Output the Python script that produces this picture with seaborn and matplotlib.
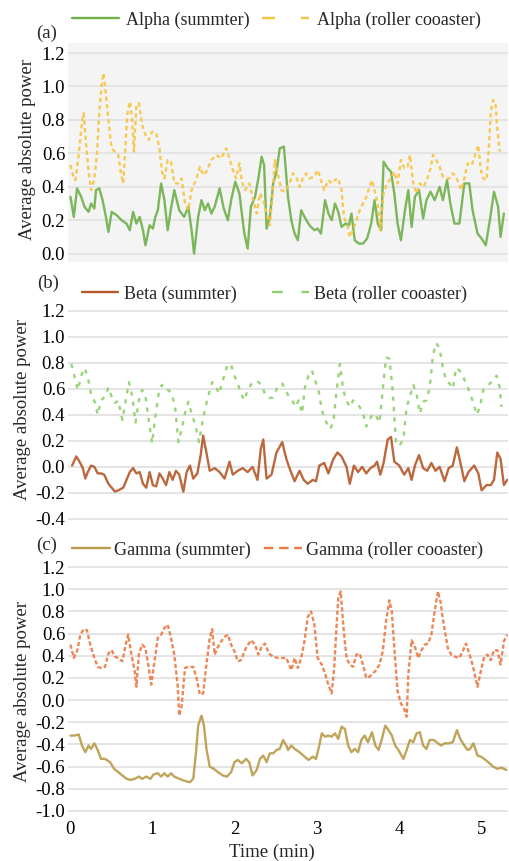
import numpy as np
import pandas as pd
import matplotlib
matplotlib.use("Agg")
import matplotlib.pyplot as plt
from matplotlib.lines import Line2D
import seaborn as sns

# (a) Alpha
alpha_summer_t = [0.01, 0.05, 0.09, 0.14, 0.18, 0.23, 0.26, 0.30, 0.32, 0.36, 0.40, 0.44, 0.47, 0.51, 0.57,
                  0.63, 0.69, 0.73, 0.77, 0.81, 0.85, 0.89, 0.92, 0.97, 1.01, 1.04, 1.07, 1.11, 1.15, 1.19,
                  1.23, 1.27, 1.33, 1.39, 1.44, 1.48, 1.51, 1.56, 1.60, 1.64, 1.68, 1.72, 1.76, 1.82, 1.87,
                  1.92, 1.96, 2.01, 2.06, 2.12, 2.16, 2.20, 2.25, 2.29, 2.33, 2.36, 2.39, 2.43, 2.47, 2.51,
                  2.55, 2.60, 2.65, 2.69, 2.73, 2.77, 2.81, 2.85, 2.91, 2.97, 3.01, 3.05, 3.10, 3.14, 3.18,
                  3.22, 3.26, 3.30, 3.35, 3.39, 3.42, 3.46, 3.51, 3.56, 3.61, 3.66, 3.70, 3.74, 3.78, 3.81,
                  3.86, 3.90, 3.94, 3.98, 4.02, 4.07, 4.11, 4.15, 4.19, 4.24, 4.29, 4.33, 4.38, 4.43, 4.49,
                  4.53, 4.58, 4.62, 4.67, 4.73, 4.79, 4.85, 4.89, 4.95, 5.00, 5.05, 5.10, 5.15, 5.20, 5.23, 5.27]
alpha_summer = [0.34, 0.22, 0.39, 0.34, 0.28, 0.25, 0.30, 0.27, 0.38, 0.39, 0.32, 0.22, 0.13, 0.25, 0.23,
                0.20, 0.18, 0.14, 0.25, 0.18, 0.22, 0.14, 0.05, 0.17, 0.15, 0.22, 0.26, 0.42, 0.32, 0.14,
                0.27, 0.38, 0.26, 0.22, 0.28, 0.14, 0.00, 0.22, 0.32, 0.26, 0.30, 0.24, 0.28, 0.39, 0.27,
                0.20, 0.32, 0.43, 0.36, 0.12, 0.03, 0.28, 0.34, 0.45, 0.58, 0.53, 0.15, 0.22, 0.42, 0.49,
                0.63, 0.64, 0.34, 0.20, 0.12, 0.08, 0.26, 0.22, 0.17, 0.14, 0.15, 0.12, 0.32, 0.24, 0.20,
                0.30, 0.25, 0.16, 0.18, 0.17, 0.24, 0.08, 0.06, 0.06, 0.09, 0.18, 0.32, 0.18, 0.14, 0.55,
                0.51, 0.49, 0.36, 0.18, 0.08, 0.26, 0.38, 0.16, 0.34, 0.38, 0.21, 0.32, 0.37, 0.32, 0.40,
                0.32, 0.44, 0.30, 0.18, 0.18, 0.42, 0.42, 0.26, 0.12, 0.09, 0.05, 0.20, 0.37, 0.28, 0.10, 0.24]

alpha_roller_t = [0.01, 0.04, 0.07, 0.11, 0.15, 0.17, 0.20, 0.23, 0.26, 0.30, 0.33, 0.36, 0.39, 0.41, 0.43,
                  0.46, 0.49, 0.51, 0.55, 0.59, 0.62, 0.65, 0.67, 0.70, 0.73, 0.76, 0.78, 0.81, 0.84, 0.88,
                  0.92, 0.96, 1.00, 1.05, 1.09, 1.12, 1.15, 1.19, 1.23, 1.27, 1.31, 1.36, 1.40, 1.44, 1.48,
                  1.54, 1.58, 1.62, 1.66, 1.72, 1.78, 1.84, 1.90, 1.94, 1.98, 2.02, 2.06, 2.09, 2.13, 2.18,
                  2.22, 2.27, 2.31, 2.35, 2.39, 2.43, 2.46, 2.49, 2.53, 2.57, 2.61,
                  2.67, 2.71, 2.75, 2.79, 2.83, 2.87, 2.91, 2.97, 3.01, 3.05, 3.09, 3.14, 3.18, 3.22, 3.26,
                  3.30, 3.33, 3.37, 3.40, 3.44, 3.48, 3.52, 3.56, 3.60, 3.64, 3.67, 3.70, 3.74, 3.77, 3.81,
                  3.85, 3.90, 3.94, 3.98, 4.02, 4.06, 4.10, 4.13, 4.17, 4.21, 4.25, 4.30, 4.34, 4.38, 4.41,
                  4.45, 4.49, 4.53, 4.57, 4.61, 4.65, 4.69, 4.75, 4.79, 4.83, 4.88, 4.92, 4.96, 4.99, 5.02,
                  5.06, 5.09, 5.11, 5.14, 5.17, 5.19, 5.22]
alpha_roller = [0.53, 0.47, 0.44, 0.59, 0.79, 0.84, 0.65, 0.49, 0.38, 0.45, 0.59, 0.85, 1.02, 1.08, 1.00,
                0.85, 0.71, 0.63, 0.61, 0.59, 0.49, 0.42, 0.59, 0.83, 0.91, 0.79, 0.61, 0.89, 0.90, 0.77,
                0.71, 0.68, 0.73, 0.72, 0.63, 0.49, 0.45, 0.56, 0.55, 0.42, 0.42, 0.45, 0.30, 0.26, 0.38,
                0.45, 0.52, 0.47, 0.49, 0.56, 0.59, 0.57, 0.63, 0.57, 0.50, 0.45, 0.54, 0.43, 0.38, 0.42,
                0.34, 0.24, 0.36, 0.32, 0.24, 0.17, 0.34, 0.56, 0.47, 0.38, 0.37,
                0.42, 0.48, 0.46, 0.40, 0.45, 0.48, 0.45, 0.46, 0.50, 0.44, 0.38, 0.44, 0.42, 0.44, 0.45,
                0.38, 0.22, 0.17, 0.10, 0.14, 0.20, 0.26, 0.30, 0.34, 0.40, 0.44, 0.38, 0.30, 0.14, 0.36,
                0.42, 0.45, 0.49, 0.42, 0.56, 0.51, 0.52, 0.59, 0.42, 0.36, 0.42, 0.40, 0.45, 0.51, 0.59,
                0.56, 0.52, 0.46, 0.45, 0.45, 0.48, 0.46, 0.38, 0.45, 0.54, 0.53, 0.59, 0.65, 0.50, 0.45,
                0.44, 0.65, 0.85, 0.92, 0.89, 0.75, 0.61]

# (b) Beta
beta_summer_t = [0.03, 0.08, 0.12, 0.16, 0.19, 0.22, 0.26, 0.30, 0.34, 0.38,
                 0.42, 0.47, 0.51, 0.55, 0.59, 0.65, 0.69, 0.73, 0.77, 0.81,
                 0.85, 0.89, 0.93, 0.97, 1.01, 1.05, 1.09, 1.13, 1.17, 1.21,
                 1.25, 1.29, 1.33, 1.38, 1.42, 1.46, 1.50, 1.55, 1.59, 1.62,
                 1.66, 1.70, 1.76, 1.82, 1.88, 1.94, 1.98, 2.04, 2.10, 2.16,
                 2.22, 2.28, 2.32, 2.35, 2.39, 2.45, 2.51, 2.58, 2.63, 2.68,
                 2.73, 2.79, 2.84, 2.89, 2.95, 2.99, 3.03, 3.09, 3.14, 3.20,
                 3.25, 3.30, 3.36, 3.40, 3.45, 3.50, 3.55, 3.60, 3.65, 3.70,
                 3.73, 3.77, 3.81, 3.86, 3.90, 3.94, 4.00, 4.06, 4.11, 4.15,
                 4.19, 4.24, 4.29, 4.34, 4.39, 4.44, 4.49, 4.55, 4.60, 4.65,
                 4.70, 4.75, 4.79, 4.84, 4.91, 4.96, 5.00, 5.06, 5.11, 5.15,
                 5.19, 5.23, 5.27, 5.31]
beta_summer = [0.01, 0.08, 0.04, -0.01, -0.09, -0.04, 0.01, 0.00, -0.05, -0.05,
               -0.06, -0.13, -0.16, -0.19, -0.18, -0.16, -0.10, -0.04, -0.01, -0.05,
               -0.04, -0.13, -0.16, -0.04, -0.14, -0.15, -0.05, -0.09, -0.14, -0.04,
               -0.10, -0.03, -0.06, -0.19, -0.04, 0.01, -0.09, -0.05, 0.09, 0.24,
               0.11, -0.03, -0.01, -0.04, -0.09, 0.04, -0.06, -0.03, -0.01, -0.04,
               0.00, -0.10, 0.14, 0.21, -0.09, -0.06, 0.11, 0.19, 0.06, -0.03,
               -0.11, -0.03, -0.10, -0.13, -0.10, -0.11, 0.01, 0.03, -0.05, 0.06,
               0.11, 0.08, 0.00, -0.13, 0.01, -0.04, 0.00, -0.05, -0.01, 0.01,
               0.04, -0.06, 0.03, 0.21, 0.23, 0.04, 0.01, -0.06, -0.01, -0.10,
               0.01, 0.09, -0.01, -0.03, 0.03, -0.03, 0.00, -0.11, -0.01, 0.01,
               0.15, 0.01, -0.11, -0.04, 0.01, -0.05, -0.18, -0.14, -0.14, -0.10,
               0.11, 0.06, -0.14, -0.10]

beta_roller_t = [0.02, 0.06, 0.10, 0.14, 0.18, 0.22, 0.26, 0.31, 0.34, 0.38,
                 0.43, 0.47, 0.51, 0.55, 0.59, 0.64, 0.68, 0.72, 0.76, 0.80,
                 0.84, 0.88, 0.92, 0.96, 1.00, 1.04, 1.08, 1.12, 1.16, 1.20,
                 1.24, 1.28, 1.32, 1.36, 1.40, 1.44, 1.48, 1.53, 1.57, 1.61,
                 1.65, 1.69, 1.73, 1.77, 1.81, 1.85, 1.88, 1.92, 1.96, 2.00,
                 2.04, 2.08, 2.12, 2.16, 2.20, 2.25, 2.29, 2.33, 2.37, 2.42,
                 2.46, 2.50, 2.54, 2.58, 2.62, 2.66, 2.70, 2.74, 2.78, 2.82,
                 2.86, 2.90, 2.94, 2.98, 3.02, 3.06, 3.10, 3.16, 3.20, 3.24,
                 3.28, 3.32, 3.36, 3.40, 3.44, 3.48, 3.52, 3.56, 3.60, 3.64,
                 3.68, 3.72, 3.76, 3.80, 3.84, 3.88, 3.92, 3.96, 4.00, 4.05,
                 4.09, 4.13, 4.17, 4.21, 4.25, 4.29, 4.33, 4.37, 4.41, 4.45,
                 4.49, 4.53, 4.57, 4.61, 4.65, 4.69, 4.73, 4.77, 4.81, 4.85,
                 4.89, 4.94, 4.98, 5.02, 5.06, 5.10, 5.14, 5.18, 5.22, 5.24]
beta_roller = [0.79, 0.69, 0.59, 0.70, 0.76, 0.69, 0.56, 0.49, 0.40, 0.51,
               0.54, 0.61, 0.54, 0.49, 0.51, 0.36, 0.51, 0.65, 0.54, 0.34,
               0.51, 0.59, 0.54, 0.36, 0.18, 0.39, 0.56, 0.63, 0.59, 0.59,
               0.56, 0.46, 0.19, 0.29, 0.41, 0.50, 0.41, 0.31, 0.19, 0.34,
               0.46, 0.56, 0.65, 0.63, 0.56, 0.64, 0.71, 0.79, 0.78, 0.70,
               0.64, 0.56, 0.51, 0.59, 0.63, 0.66, 0.65, 0.63, 0.56, 0.53,
               0.53, 0.58, 0.63, 0.64, 0.59, 0.54, 0.51, 0.46, 0.51, 0.41,
               0.63, 0.70, 0.74, 0.66, 0.59, 0.44, 0.36, 0.29, 0.34, 0.59,
               0.79, 0.59, 0.51, 0.46, 0.51, 0.49, 0.46, 0.41, 0.31, 0.36,
               0.41, 0.39, 0.34, 0.59, 0.84, 0.83, 0.59, 0.19, 0.16, 0.21,
               0.46, 0.54, 0.63, 0.56, 0.41, 0.50, 0.51, 0.61, 0.86, 0.95,
               0.91, 0.76, 0.66, 0.64, 0.60, 0.76, 0.74, 0.70, 0.64, 0.58,
               0.51, 0.40, 0.46, 0.59, 0.61, 0.64, 0.66, 0.70, 0.61, 0.46]

# (c) Gamma
gamma_summer_t = [0.01, 0.06, 0.11, 0.15, 0.19, 0.23, 0.26, 0.30, 0.34, 0.38,
                  0.43, 0.49, 0.54, 0.59, 0.64, 0.69, 0.74, 0.79, 0.84, 0.88,
                  0.93, 0.98, 1.02, 1.07, 1.11, 1.15, 1.19, 1.23, 1.27, 1.33,
                  1.40, 1.46, 1.50, 1.53, 1.56, 1.60, 1.63, 1.66, 1.70, 1.75,
                  1.80, 1.86, 1.91, 1.96, 2.00, 2.04, 2.09, 2.14, 2.18, 2.22,
                  2.27, 2.31, 2.35, 2.39, 2.43, 2.47, 2.51, 2.55, 2.59, 2.63,
                  2.65, 2.69, 2.73, 2.79, 2.85, 2.90, 2.95, 2.99, 3.03, 3.06,
                  3.10, 3.14, 3.18, 3.22, 3.26, 3.30, 3.34, 3.38, 3.42, 3.46,
                  3.50, 3.54, 3.58, 3.62, 3.67, 3.71, 3.75, 3.79, 3.83, 3.87,
                  3.91, 3.95, 3.99, 4.05, 4.09, 4.13, 4.17, 4.21, 4.25, 4.29,
                  4.33, 4.37, 4.42, 4.47, 4.51, 4.55, 4.60, 4.65, 4.70, 4.74,
                  4.79, 4.83, 4.86, 4.90, 4.95, 4.99, 5.03, 5.08, 5.14, 5.19,
                  5.24, 5.30]
gamma_summer = [-0.32, -0.32, -0.31, -0.41, -0.47, -0.41, -0.44, -0.39, -0.45, -0.53,
                -0.53, -0.56, -0.62, -0.65, -0.68, -0.71, -0.72, -0.71, -0.69, -0.71,
                -0.69, -0.71, -0.67, -0.66, -0.69, -0.66, -0.69, -0.66, -0.69, -0.71,
                -0.73, -0.74, -0.71, -0.50, -0.23, -0.14, -0.23, -0.44, -0.60, -0.62,
                -0.65, -0.68, -0.69, -0.65, -0.56, -0.54, -0.57, -0.53, -0.56, -0.68,
                -0.63, -0.53, -0.50, -0.56, -0.48, -0.48, -0.45, -0.44, -0.36, -0.41,
                -0.45, -0.41, -0.44, -0.47, -0.51, -0.54, -0.51, -0.53, -0.41, -0.30,
                -0.33, -0.32, -0.33, -0.30, -0.35, -0.24, -0.26, -0.41, -0.47, -0.44,
                -0.47, -0.36, -0.32, -0.38, -0.29, -0.41, -0.45, -0.35, -0.23, -0.27,
                -0.32, -0.41, -0.45, -0.53, -0.45, -0.36, -0.38, -0.30, -0.29, -0.41,
                -0.44, -0.36, -0.36, -0.39, -0.41, -0.39, -0.39, -0.38, -0.27, -0.35,
                -0.41, -0.45, -0.44, -0.39, -0.50, -0.51, -0.53, -0.56, -0.60, -0.62,
                -0.61, -0.63]

gamma_roller_t = [0.01, 0.05, 0.09, 0.13, 0.17, 0.21, 0.25, 0.30, 0.34, 0.38,
                  0.43, 0.47, 0.51, 0.55, 0.59, 0.64, 0.68, 0.71, 0.75, 0.79,
                  0.81, 0.84, 0.88, 0.92, 0.96, 0.99, 1.03, 1.07, 1.11, 1.15,
                  1.19, 1.23, 1.27, 1.31, 1.33, 1.36, 1.40, 1.44, 1.50, 1.54,
                  1.58, 1.62, 1.66, 1.70, 1.73, 1.76, 1.80, 1.84, 1.88, 1.92,
                  1.96, 2.00, 2.04, 2.08, 2.14, 2.20, 2.25, 2.29, 2.33, 2.37,
                  2.42, 2.47, 2.53, 2.59, 2.63,
                  2.69, 2.73, 2.77, 2.81, 2.85, 2.89, 2.93, 2.97, 3.01, 3.06,
                  3.09, 3.14, 3.18, 3.21, 3.24, 3.26, 3.29, 3.32, 3.36, 3.40,
                  3.44, 3.48, 3.52, 3.56, 3.60, 3.64, 3.68, 3.72, 3.76, 3.80,
                  3.84, 3.88, 3.91, 3.94, 3.98, 4.02, 4.06, 4.09, 4.11, 4.15,
                  4.19, 4.23, 4.27, 4.31, 4.35, 4.39, 4.43, 4.47, 4.50, 4.54,
                  4.59, 4.63, 4.68, 4.73, 4.77, 4.81, 4.85, 4.89, 4.95, 4.99,
                  5.03, 5.07, 5.11, 5.15, 5.19, 5.23, 5.27, 5.31]
gamma_roller = [0.50, 0.38, 0.44, 0.59, 0.64, 0.63, 0.50, 0.38, 0.30, 0.29,
                0.30, 0.42, 0.45, 0.39, 0.38, 0.35, 0.50, 0.59, 0.41, 0.26,
                0.12, 0.41, 0.50, 0.47, 0.29, 0.14, 0.35, 0.56, 0.59, 0.65,
                0.68, 0.56, 0.41, 0.14, -0.14, -0.05, 0.29, 0.30, 0.30, 0.20,
                0.05, 0.06, 0.32, 0.56, 0.64, 0.41, 0.48, 0.53, 0.57, 0.59,
                0.50, 0.44, 0.35, 0.36, 0.47, 0.54, 0.50, 0.41, 0.48, 0.51,
                0.42, 0.39, 0.38, 0.38, 0.38,
                0.27, 0.38, 0.29, 0.38, 0.53, 0.75, 0.80, 0.68, 0.38, 0.32,
                0.26, 0.14, 0.06, 0.29, 0.68, 0.92, 0.98, 0.68, 0.38, 0.32,
                0.30, 0.41, 0.42, 0.32, 0.20, 0.21, 0.24, 0.27, 0.32, 0.44,
                0.71, 0.90, 0.80, 0.47, 0.08, -0.03, -0.08, -0.15, 0.23, 0.54,
                0.48, 0.38, 0.45, 0.50, 0.51, 0.59, 0.80, 0.98, 0.89, 0.68,
                0.47, 0.41, 0.39, 0.38, 0.44, 0.51, 0.42, 0.32, 0.12, 0.26,
                0.39, 0.41, 0.36, 0.45, 0.45, 0.32, 0.53, 0.59]

x_ticks = [0, 1, 2, 3, 4, 5]
ticks_a = [0.0, 0.2, 0.4, 0.6, 0.8, 1.0, 1.2]
ticks_b = [-0.4, -0.2, 0.0, 0.2, 0.4, 0.6, 0.8, 1.0, 1.2]
ticks_c = [-1.0, -0.8, -0.6, -0.4, -0.2, 0.0, 0.2, 0.4, 0.6, 0.8, 1.0, 1.2]

sns.set_style("white")
plt.rcParams["font.family"] = "serif"
plt.rcParams["font.serif"] = ["Liberation Serif", "DejaVu Serif"]
plt.rcParams["axes.unicode_minus"] = False

W, H = 509, 861
FS = 13.5
LFS = 13
fig = plt.figure(figsize=(W / 100, H / 100), dpi=100)


def add_ax(top, bottom):
    return fig.add_axes([68 / W, (H - bottom) / H, 440 / W, (bottom - top) / H])


panels = [
    dict(ax=add_ax(43, 262), ylim=(-0.05, 1.26), ticks=ticks_a, bg="#f4f4f4",
         series=[(alpha_summer_t, alpha_summer, "#6fb04a", "-"),
                 (alpha_roller_t, alpha_roller, "#f8c441", (0, (1.8, 1.4)))]),
    dict(ax=add_ax(304, 525.5), ylim=(-0.45, 1.25), ticks=ticks_b, bg="white",
         series=[(beta_summer_t, beta_summer, "#b5582a", "-"),
                 (beta_roller_t, beta_roller, "#8fcf6c", (0, (1.8, 2.6)))]),
    dict(ax=add_ax(561.5, 816.5), ylim=(-1.05, 1.25), ticks=ticks_c, bg="white",
         series=[(gamma_summer_t, gamma_summer, "#b99a48", "-"),
                 (gamma_roller_t, gamma_roller, "#ec7a45", (0, (1.8, 1.0)))]),
]

for p in panels:
    ax = p["ax"]
    ax.set_facecolor(p["bg"])
    for t, v, col, ls in p["series"]:
        assert len(t) == len(v)
        df = pd.DataFrame({"t": t, "v": v})
        sns.lineplot(data=df, x="t", y="v", ax=ax, color=col, linestyle=ls, lw=1.7,
                     estimator=None, alpha=0.9)
    ax.set_xlim(-0.02, 5.32)
    ax.set_ylim(*p["ylim"])
    ax.set_yticks(p["ticks"])
    ax.set_yticklabels([f"{x:.1f}" for x in p["ticks"]])
    ax.yaxis.grid(True, color="#e4e4e4", lw=1.4)
    ax.xaxis.grid(False)
    ax.set_axisbelow(True)
    for s in ax.spines.values():
        s.set_visible(False)
    ax.tick_params(axis="both", length=0, labelsize=FS, pad=2, colors="black")
    ax.set_xlabel("")
    ax.set_ylabel("")
    ax.set_xticks(x_ticks)
    ax.set_xticklabels([])

panels[2]["ax"].set_xticklabels([str(x) for x in x_ticks])
panels[2]["ax"].tick_params(axis="x", pad=3)

# legends
legend_specs = [
    (20, 72, ["Alpha (summter)", "Alpha (roller cooaster)"],
     [Line2D([], [], color="#6fb04a", lw=1.7),
      Line2D([], [], color="#f8c441", lw=1.7, dashes=(5.5, 11))],
     dict(handlelength=2.6, handletextpad=0.4, columnspacing=0.7)),
    (294, 82, ["Beta (summter)", "Beta (roller cooaster)"],
     [Line2D([], [], color="#b5582a", lw=1.7),
      Line2D([], [], color="#8fcf6c", lw=1.7, dashes=(4.5, 8))],
     dict(handlelength=2.0, handletextpad=0.3, columnspacing=2.0)),
    (550, 72, ["Gamma (summter)", "Gamma (roller cooaster)"],
     [Line2D([], [], color="#b99a48", lw=1.7),
      Line2D([], [], color="#ec7a45", lw=1.7, dashes=(4, 2.4))],
     dict(handlelength=2.1, handletextpad=0.25, columnspacing=0.7)),
]
for y, x, labels, handles, kw in legend_specs:
    fig.legend(handles, labels, loc="center left", bbox_to_anchor=(x / W, 1 - y / H), ncol=2,
               frameon=False, borderpad=0, borderaxespad=0, fontsize=LFS, **kw)

for lab, x, y in [("(a)", 47, 33), ("(b)", 48, 283), ("(c)", 47, 545)]:
    fig.text(x / W, 1 - y / H, lab, ha="center", va="center", fontsize=FS)

for x, y in [(28, 150), (23, 410), (23, 692)]:
    fig.text(x / W, 1 - y / H, "Average absolute power", rotation=90, ha="center", va="center",
             fontsize=FS)

fig.text(272 / W, 1 - 852 / H, "Time (min)", ha="center", va="center", fontsize=FS)

fig.savefig("out.png", dpi=100)
